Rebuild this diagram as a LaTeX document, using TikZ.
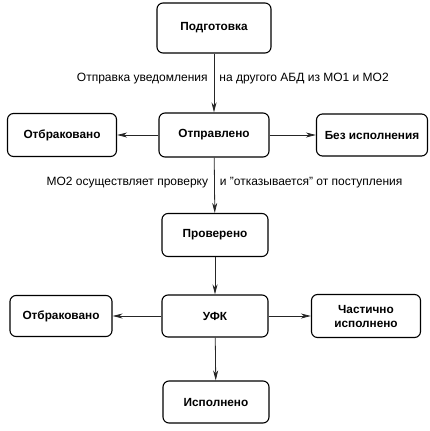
\documentclass[tikz,border=0pt]{standalone}
\usepackage{fontspec}
\setmainfont{Liberation Sans}
\usetikzlibrary{arrows.meta}
\newcommand{\qq}{\symbol{34}}
\begin{document}
\begin{tikzpicture}[x=1pt, y=-1pt,
  box/.style={draw=black, line width=1.1pt, rounded corners=6pt, font=\fontsize{11.8}{14}\selectfont\bfseries, align=center, minimum height=42pt},
  arr/.style={draw=black!85, line width=0.8pt, -{Stealth[length=10pt, width=5pt, inset=3pt]}},
  lbl/.style={font=\fontsize{12}{14}\selectfont, inner sep=1pt}]
\useasboundingbox (0,0) rectangle (429,431);
% Knoten
\node[box, minimum width=114pt, minimum height=50pt] (prep) at (214,28) {Подготовка};
\node[box, minimum width=110pt, minimum height=44pt] (sent) at (214,135) {Отправлено};
\node[box, minimum width=109pt, minimum height=43pt] (rejA) at (62,135) {Отбраковано};
\node[box, minimum width=111pt] (noexec) at (372,135) {Без исполнения};
\node[box, minimum width=106pt, minimum height=43pt] (chk) at (215,235) {Проверено};
\node[box, minimum width=106pt] (ufk) at (215,316) {УФК};
\node[box, minimum width=102pt, minimum height=41pt] (rejB) at (61,316) {Отбраковано};
\node[box, minimum width=109pt, minimum height=43pt] (part) at (366,316) {Частично\\исполнено};
\node[box, minimum width=106pt] (done) at (216,402) {Исполнено};
% Pfeile
\draw[arr] (prep) -- (sent)
  node[lbl, pos=0.42, left=5pt] {Отправка уведомления}
  node[lbl, pos=0.42, right=4pt] {на другого АБД из МО1 и МО2};
\draw[arr] (sent) -- (rejA);
\draw[arr] (sent) -- (noexec);
\draw[arr] (sent) -- (chk)
  node[lbl, pos=0.46, left=5pt] {МО2 осуществляет проверку}
  node[lbl, pos=0.46, right=4pt] {и \qq отказывается\qq{} от поступления};
\draw[arr] (chk) -- (ufk);
\draw[arr] (ufk) -- (rejB);
\draw[arr] (ufk) -- (part);
\draw[arr] (ufk) -- (done);
\end{tikzpicture}
\end{document}
